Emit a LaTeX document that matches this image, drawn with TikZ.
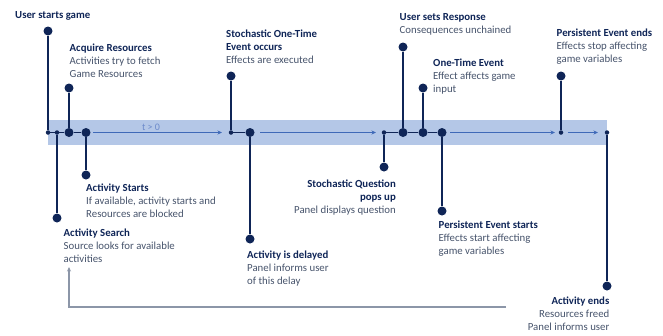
\documentclass[tikz,border=0pt]{standalone}
\usepackage{fontspec}
\setmainfont{Carlito}
\usetikzlibrary{arrows.meta}
\definecolor{navy}{HTML}{0F2557}
\definecolor{bandc}{HTML}{B4C7E7}
\definecolor{arrc}{HTML}{3F69B8}
\definecolor{tcol}{HTML}{6C8ACB}
\definecolor{desc}{HTML}{46536B}
\definecolor{fbc}{HTML}{8C96A8}
\begin{document}
\begin{tikzpicture}[x=1pt,y=-1pt,
  big/.style={circle,fill=navy,inner sep=0pt,minimum size=9pt},
  small/.style={circle,fill=navy,inner sep=0pt,minimum size=4.5pt},
  stem/.style={draw=navy,line width=1.2pt},
  flow/.style={draw=arrc,line width=0.9pt,-{Stealth[length=4.5pt,width=4pt]}},
  feedback/.style={draw=fbc,line width=1.1pt,-{Stealth[length=4.5pt,width=4pt]}},
  lbl/.style={align=left,anchor=base west,inner sep=0pt,font=\fontsize{10.8}{13}\selectfont,text=desc},
  lblr/.style={lbl,align=right,anchor=base east}
  ]
\useasboundingbox (0,0) rectangle (663,335);
\fill[bandc] (48,120) rectangle (607,145);

% timeline points
\node[small] (t1) at (48,132.5) {};
\node[small] (t2) at (57,132.5) {};
\node[big] (t3) at (69,132.5) {};
\node[big] (t4) at (86,132.5) {};
\coordinate (a1s) at (93,132.5);
\coordinate (a1e) at (222,132.5);
\node[small] (t5) at (231,132.5) {};
\node[big] (t6) at (250,132.5) {};
\coordinate (a2s) at (260,132.5);
\coordinate (a2e) at (376,132.5);
\node[small] (t7) at (384,132.5) {};
\node[big] (t8) at (403,132.5) {};
\node[big] (t9) at (423,132.5) {};
\node[big] (t10) at (442,132.5) {};
\coordinate (a3s) at (450,132.5);
\coordinate (a3e) at (555,132.5);
\node[small] (t11) at (561,132.5) {};
\coordinate (a4s) at (568,132.5);
\coordinate (a4e) at (598,132.5);
\node[small] (t12) at (607,132.5) {};

% stem ends
\node[big] (u1) at (48,31) {};
\node[big] (d2) at (57,218) {};
\node[big] (u3) at (69,88) {};
\node[big] (d4) at (86,175) {};
\node[big] (u5) at (231,76) {};
\node[big] (d6) at (250,239) {};
\node[big] (d7) at (384,167) {};
\node[big] (u8) at (403,47) {};
\node[big] (u9) at (423,88) {};
\node[big] (d10) at (442,211) {};
\node[big] (u11) at (561,76) {};
\node[big] (d12) at (607,286) {};

% timeline segments
\draw[stem] (t1) -- (t2) -- (t3) -- (t4);
\draw[stem] (t5) -- (t6);
\draw[stem] (t7) -- (t8) -- (t9) -- (t10);
\draw[flow] (a1s) -- (a1e);
\draw[flow] (a2s) -- (a2e);
\draw[flow] (a3s) -- (a3e);
\draw[flow] (a4s) -- (a4e);
\node[text=tcol,font=\fontsize{10}{11}\selectfont,inner sep=0pt] (tlab) at (151,127) {t > 0};

% stems
\draw[stem] (t1) -- (u1);
\draw[stem] (t2) -- (d2);
\draw[stem] (t3) -- (u3);
\draw[stem] (t4) -- (d4);
\draw[stem] (t5) -- (u5);
\draw[stem] (t6) -- (d6);
\draw[stem] (t7) -- (d7);
\draw[stem] (t8) -- (u8);
\draw[stem] (t9) -- (u9);
\draw[stem] (t10) -- (d10);
\draw[stem] (t11) -- (u11);
\draw[stem] (t12) -- (d12);

% labels (anchored at the baseline of the last line)
\node[lbl] (l1) at (15,18) {\textcolor{navy}{\bfseries User starts game}};
\node[lbl] (l3) at (69.5,77) {\textcolor{navy}{\bfseries Acquire Resources}\\Activities try to fetch\\Game Resources};
\node[lbl] (l5) at (226,63) {\textcolor{navy}{\bfseries Stochastic One-Time}\\\textcolor{navy}{\bfseries Event occurs}\\Effects are executed};
\node[lbl] (l8) at (399.5,33) {\textcolor{navy}{\bfseries User sets Response}\\Consequences unchained};
\node[lbl] (l9) at (433,92) {\textcolor{navy}{\bfseries One-Time Event}\\Effect affects game\\input};
\node[lbl] (l11) at (556.5,62) {\textcolor{navy}{\bfseries Persistent Event ends}\\Effects stop affecting\\game variables};
\node[lbl] (l4) at (86,217) {\textcolor{navy}{\bfseries Activity Starts}\\If available, activity starts and\\Resources are blocked};
\node[lbl] (l2) at (63.5,262) {\textcolor{navy}{\bfseries Activity Search}\\Source looks for available\\activities};
\node[lbl] (l6) at (247,284) {\textcolor{navy}{\bfseries Activity is delayed}\\Panel informs user\\of this delay};
\node[lblr] (l7) at (396,213) {\textcolor{navy}{\bfseries Stochastic Question}\\\textcolor{navy}{\bfseries pops up}\\Panel displays question};
\node[lbl] (l10) at (438.5,254) {\textcolor{navy}{\bfseries Persistent Event starts}\\Effects start affecting\\game variables};
\node[lblr] (l12) at (609.5,330) {\textcolor{navy}{\bfseries Activity ends}\\Resources freed\\Panel informs user};

% feedback loop
\coordinate (fbs) at (506,307);
\coordinate (fbt) at (69,267);
\draw[feedback] (fbs) -| (fbt);
\end{tikzpicture}
\end{document}
